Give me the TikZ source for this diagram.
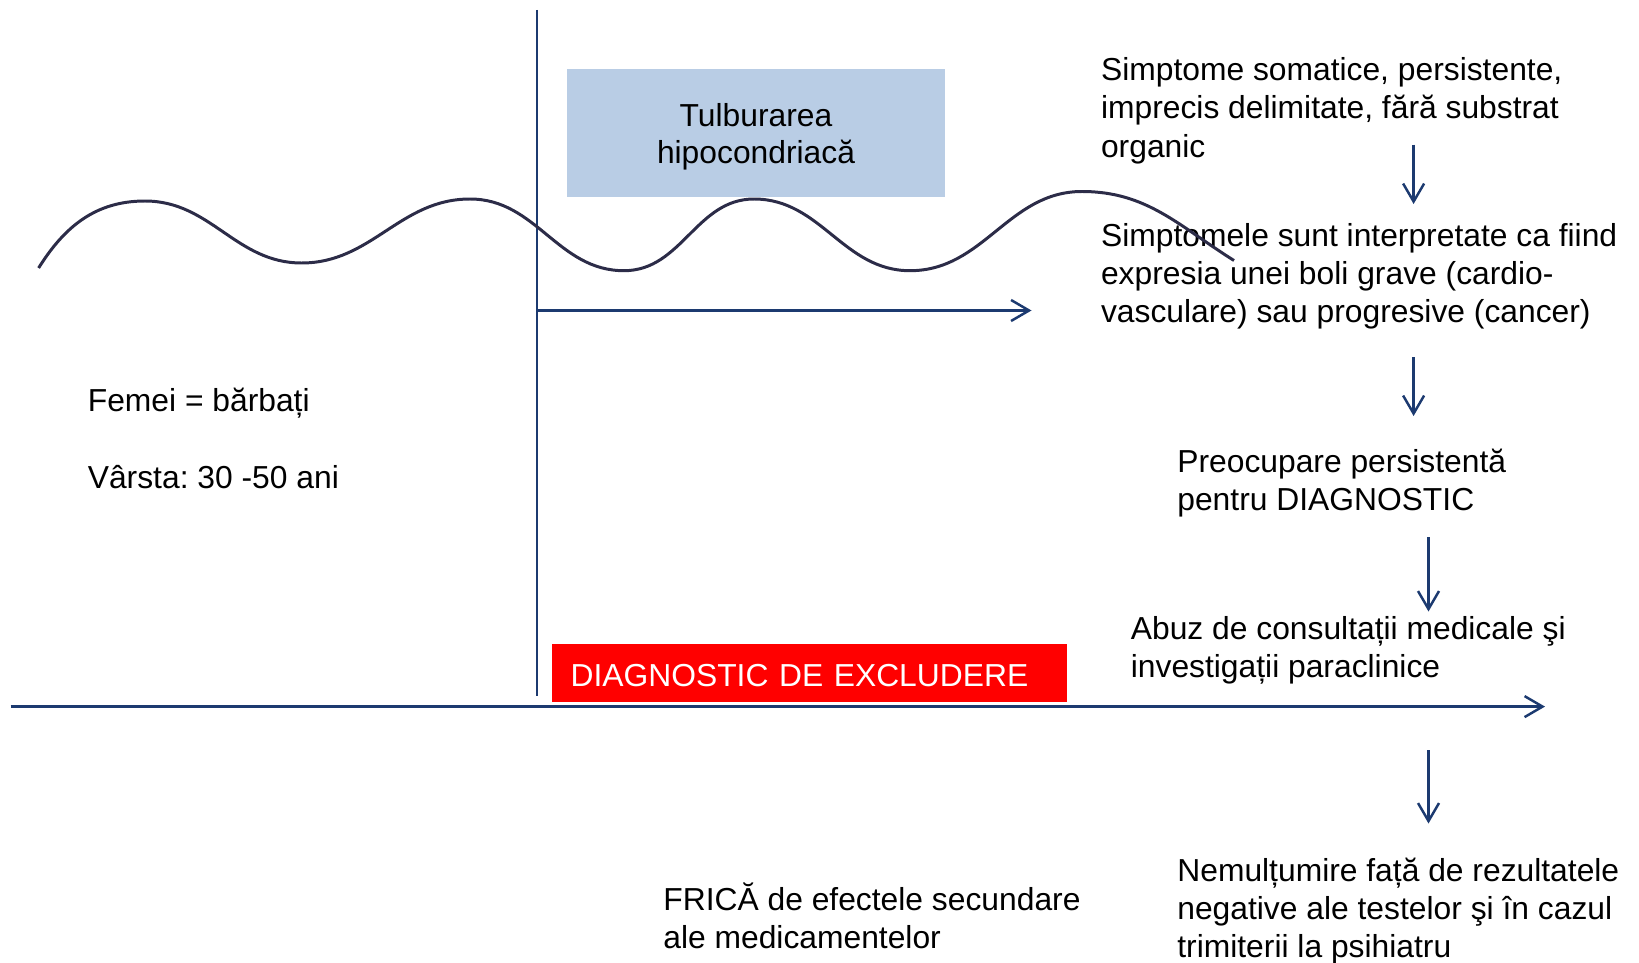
\documentclass[tikz,border=0pt]{standalone}
\usepackage{fontspec}
\setmainfont{Liberation Sans}
\usetikzlibrary{arrows.meta, positioning}
\definecolor{navy}{HTML}{1C3A70}
\definecolor{wavec}{HTML}{2C2C48}
\definecolor{boxblue}{HTML}{B9CDE5}
\definecolor{boxred}{HTML}{FF0000}
\frenchspacing

\begin{document}
\begin{tikzpicture}[
    x=0.02cm, y=-0.02cm,
    every node/.style={font=\fontsize{18.1}{21.7}\selectfont},
    txt/.style={anchor=base west, align=left, inner sep=0pt},
    bluebox/.style={fill=boxblue, minimum width=7.56cm, minimum height=2.56cm, inner sep=0pt},
    boxtxt/.style={align=center, inner sep=0pt, font=\fontsize{18.1}{21}\selectfont},
    redbox/.style={fill=boxred, text=white, minimum height=1.16cm, text width=9.55cm, text height=0.545cm, text depth=0pt, inner xsep=0.37cm, inner ysep=0pt, align=left},
    axis/.style={navy, line width=1.2pt},
    arrow/.style={navy, line width=1.4pt, -{Straight Barb[length=0.36cm, width=0.42cm, line width=1.4pt]}},
    wave/.style={wavec, line width=1.7pt}
]
    \useasboundingbox (0,0) rectangle (1639,963);

    \node[bluebox] (tulb) at (756,133) {};
    \node[boxtxt, yshift=-0.08cm] (tulbtxt) at (tulb.center) {Tulburarea\\hipocondriacă};
    \node[redbox] (excl) at (809.3,673) {DIAGNOSTIC DE EXCLUDERE};

    \node[txt] (sex) at (87.5,411.5) {Femei = bărbați};
    \node[txt] (age) at (87.5,488) {Vârsta: 30 -50 ani};

    \node[txt] (s1) at (1100.7,157.1) {Simptome somatice, persistente,\\imprecis delimitate, fără substrat\\organic};
    \node[txt] (s2) at (1100.7,322.6) {Simptomele sunt interpretate ca fiind\\expresia unei boli grave (cardio-\\vasculare) sau progresive (cancer)};
    \node[txt] (s3) at (1177,510.3) {Preocupare persistentă\\pentru DIAGNOSTIC};
    \node[txt] (s4) at (1130.5,677.3) {Abuz de consultații medicale şi\\investigații paraclinice};
    \node[txt] (s5) at (1177,957.6) {Nemulțumire față de rezultatele\\negative ale testelor şi în cazul\\trimiterii la psihiatru};
    \node[txt] (fear) at (663,948.3) {FRICĂ de efectele secundare\\ale medicamentelor};

    \coordinate (vtop) at (536.6,10);
    \coordinate (vbot) at (536.6,696);
    \coordinate (hstart) at (536.6,310.5);
    \coordinate (hend) at (1031.5,310.5);
    \coordinate (axl) at (10.5,706.6);
    \coordinate (axr) at (1545,706.6);
    \coordinate (d1s) at (1413.6,144.6);
    \coordinate (d1e) at (1413.6,204);
    \coordinate (d2s) at (1413.6,357);
    \coordinate (d2e) at (1413.6,416);
    \coordinate (d3s) at (1428.5,537);
    \coordinate (d3e) at (1428.5,611.5);
    \coordinate (d4s) at (1428.5,750);
    \coordinate (d4e) at (1428.5,823.5);

    \draw[axis] (vtop) -- (vbot);
    \draw[arrow] (hstart) -- (hend);
    \draw[arrow] (axl) -- (axr);
    \draw[arrow] (d1s) -- (d1e);
    \draw[arrow] (d2s) -- (d2e);
    \draw[arrow] (d3s) -- (d3e);
    \draw[arrow] (d4s) -- (d4e);

    \draw[wave] (38.6,268) to[out=58, in=180] (145,201)
        to[out=0, in=180] (301.6,263)
        to[out=0, in=180] (470,199)
        to[out=0, in=180] (624,270.7)
        to[out=0, in=180] (754,199)
        to[out=0, in=180] (910,270.7)
        to[out=0, in=180] (1082,191.5)
        to[out=0, in=148] (1234,260.5);
\end{tikzpicture}
\end{document}
